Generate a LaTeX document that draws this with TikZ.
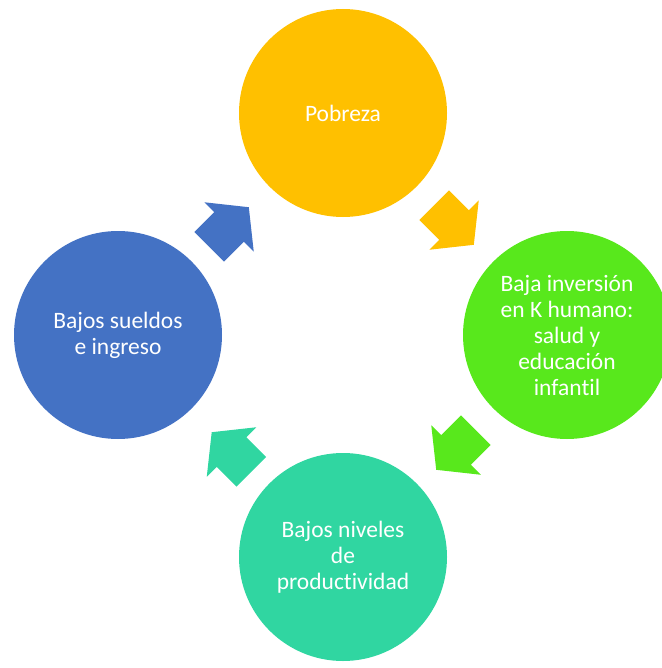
\documentclass[tikz,border=0pt]{standalone}
\usepackage{fontspec}
\setmainfont{Carlito}[Ligatures=NoCommon]
\definecolor{corange}{HTML}{FFC000}
\definecolor{cgreen}{HTML}{58E81C}
\definecolor{cteal}{HTML}{30D6A1}
\definecolor{cblue}{HTML}{4472C4}
\begin{document}
\begin{tikzpicture}[x=1pt,y=-1pt,
  bubble/.style={circle,minimum size=208pt,inner sep=0pt,text=white,align=center,
    font=\fontsize{23.5}{26}\selectfont},
  blockarrow/.pic={\fill[pic actions] (-28,-21) -- (0,-21) -- (0,-35) -- (28,0) -- (0,35) -- (0,21) -- (-28,21) -- cycle;}]
\useasboundingbox (0,0) rectangle (661,668);
\node[bubble,fill=corange] (pob) at (343,113) {Pobreza};
\node[bubble,fill=cgreen] (inv) at (567,335) {Baja inversión\\en K humano:\\salud y\\educación\\infantil};
\node[bubble,fill=cteal] (prod) at (343,557) {Bajos niveles\\de\\productividad};
\node[bubble,fill=cblue] (sue) at (118,335) {Bajos sueldos\\e ingreso};
\pic[fill=corange,rotate=-45] at (454,225) {blockarrow};
\pic[fill=cgreen,rotate=-135] at (456,450) {blockarrow};
\pic[fill=cteal,rotate=135] at (231.5,452) {blockarrow};
\pic[fill=cblue,rotate=45] at (229,227) {blockarrow};
\end{tikzpicture}
\end{document}
